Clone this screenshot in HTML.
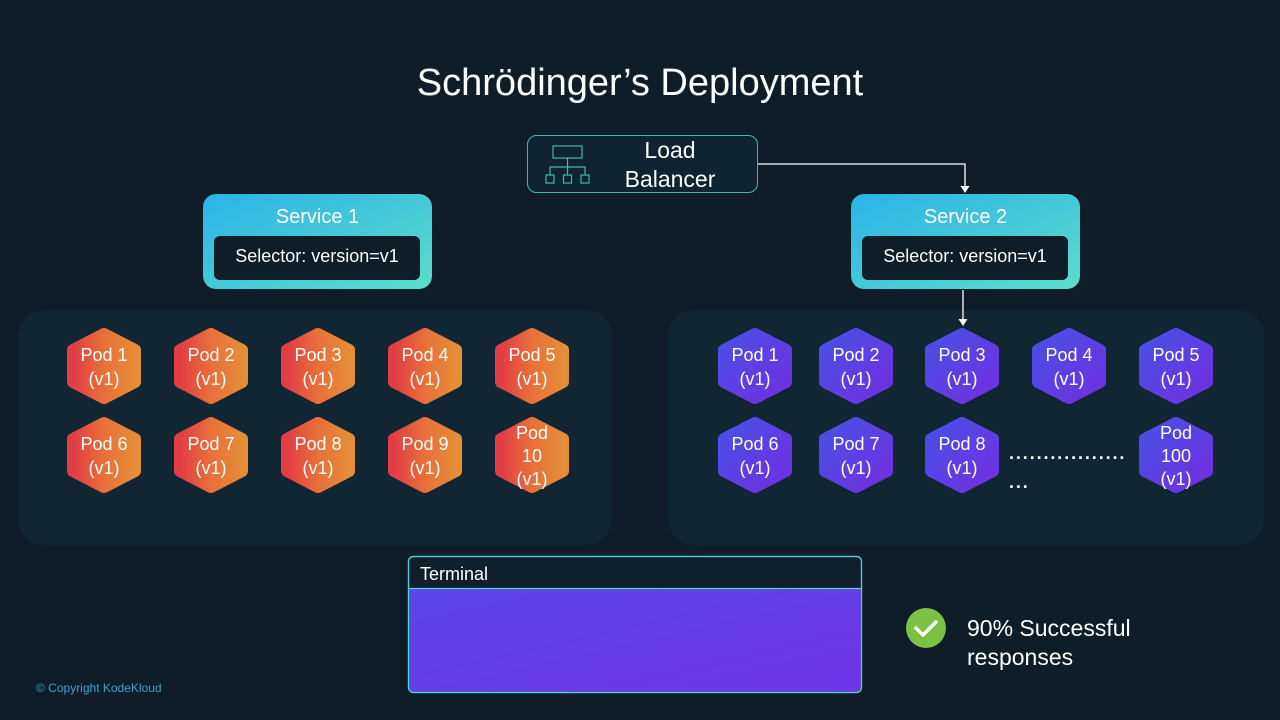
<!DOCTYPE html>
<html><head><meta charset="utf-8"><style>
html,body{margin:0;padding:0;background:#0e1d28;}
svg{display:block}
text{font-family:"Liberation Sans",sans-serif;fill:#fff}
</style></head><body>
<svg width="1280" height="720" viewBox="0 0 1280 720" xmlns="http://www.w3.org/2000/svg">
<defs>
<linearGradient id="og" x1="0" y1="0" x2="1" y2="0"><stop offset="0" stop-color="#e23d44"/><stop offset="0.5" stop-color="#e8703a"/><stop offset="1" stop-color="#e58d37"/></linearGradient>
<linearGradient id="pg" x1="0" y1="0" x2="1" y2="1"><stop offset="0" stop-color="#4a4fe6"/><stop offset="1" stop-color="#7030e0"/></linearGradient>
<linearGradient id="sg" x1="0" y1="0" x2="1" y2="1"><stop offset="0" stop-color="#2bb4e8"/><stop offset="1" stop-color="#5ddcc9"/></linearGradient>
<linearGradient id="tg" x1="0" y1="0" x2="1" y2="1"><stop offset="0" stop-color="#5b45e6"/><stop offset="1" stop-color="#6e36e6"/></linearGradient>
<polygon id="hx" points="0,-32 31,-16 31,16 0,32 -31,16 -31,-16" stroke-width="12" stroke-linejoin="round"/>
</defs>
<rect width="1280" height="720" fill="#0e1d28"/>
<text x="640" y="95" text-anchor="middle" font-size="38">Schrödinger’s Deployment</text>

<!-- load balancer -->
<rect x="527.5" y="135.5" width="230" height="57" rx="9" fill="#102330" stroke="#3fb8b0" stroke-width="1"/>
<g stroke="#3fb8b0" fill="none" stroke-width="1.2">
<rect x="553" y="146" width="29" height="12"/>
<path d="M567.5 158v9M550 175v-8h35v8M567.5 167v8"/>
<rect x="546" y="175" width="8" height="8"/><rect x="563.5" y="175" width="8" height="8"/><rect x="581" y="175" width="8" height="8"/>
</g>
<text x="670" y="158" text-anchor="middle" font-size="23">Load</text>
<text x="670" y="187" text-anchor="middle" font-size="23">Balancer</text>
<path d="M758 164H965V187" stroke="#fff" stroke-width="1.3" fill="none"/>
<polygon points="960.5,186 969.5,186 965,193" fill="#fff"/>

<!-- services -->
<rect x="203" y="194" width="229" height="95" rx="13" fill="url(#sg)"/>
<text x="317.5" y="223" text-anchor="middle" font-size="20">Service 1</text>
<rect x="214" y="236" width="206" height="44" rx="6" fill="#0e1d28"/>
<text x="317" y="262" text-anchor="middle" font-size="18">Selector: version=v1</text>
<rect x="851" y="194" width="229" height="95" rx="13" fill="url(#sg)"/>
<text x="965.5" y="223" text-anchor="middle" font-size="20">Service 2</text>
<rect x="862" y="236" width="206" height="44" rx="6" fill="#0e1d28"/>
<text x="965" y="262" text-anchor="middle" font-size="18">Selector: version=v1</text>

<!-- panels -->
<rect x="18" y="310" width="594" height="235" rx="26" fill="#112533"/>
<rect x="668" y="310" width="596" height="235" rx="26" fill="#112533"/>

<path d="M963 290V320" stroke="#fff" stroke-width="1.3"/>
<polygon points="958.5,319 967.5,319 963,326" fill="#fff"/>

<g font-size="18" text-anchor="middle">
<g fill="url(#og)" stroke="url(#og)">
<use href="#hx" x="104" y="366"/><use href="#hx" x="211" y="366"/><use href="#hx" x="318" y="366"/><use href="#hx" x="425" y="366"/><use href="#hx" x="532" y="366"/>
<use href="#hx" x="104" y="455"/><use href="#hx" x="211" y="455"/><use href="#hx" x="318" y="455"/><use href="#hx" x="425" y="455"/><use href="#hx" x="532" y="455"/>
</g>
<text x="104" y="361">Pod 1</text><text x="104" y="385">(v1)</text>
<text x="211" y="361">Pod 2</text><text x="211" y="385">(v1)</text>
<text x="318" y="361">Pod 3</text><text x="318" y="385">(v1)</text>
<text x="425" y="361">Pod 4</text><text x="425" y="385">(v1)</text>
<text x="532" y="361">Pod 5</text><text x="532" y="385">(v1)</text>
<text x="104" y="450">Pod 6</text><text x="104" y="474">(v1)</text>
<text x="211" y="450">Pod 7</text><text x="211" y="474">(v1)</text>
<text x="318" y="450">Pod 8</text><text x="318" y="474">(v1)</text>
<text x="425" y="450">Pod 9</text><text x="425" y="474">(v1)</text>
<text x="532" y="439">Pod</text><text x="532" y="462">10</text><text x="532" y="485">(v1)</text>

<g fill="url(#pg)" stroke="url(#pg)">
<use href="#hx" x="755" y="366"/><use href="#hx" x="856" y="366"/><use href="#hx" x="962" y="366"/><use href="#hx" x="1069" y="366"/><use href="#hx" x="1176" y="366"/>
<use href="#hx" x="755" y="455"/><use href="#hx" x="856" y="455"/><use href="#hx" x="962" y="455"/><use href="#hx" x="1176" y="455"/>
</g>
<text x="755" y="361">Pod 1</text><text x="755" y="385">(v1)</text>
<text x="856" y="361">Pod 2</text><text x="856" y="385">(v1)</text>
<text x="962" y="361">Pod 3</text><text x="962" y="385">(v1)</text>
<text x="1069" y="361">Pod 4</text><text x="1069" y="385">(v1)</text>
<text x="1176" y="361">Pod 5</text><text x="1176" y="385">(v1)</text>
<text x="755" y="450">Pod 6</text><text x="755" y="474">(v1)</text>
<text x="856" y="450">Pod 7</text><text x="856" y="474">(v1)</text>
<text x="962" y="450">Pod 8</text><text x="962" y="474">(v1)</text>
<text x="1176" y="439">Pod</text><text x="1176" y="462">100</text><text x="1176" y="485">(v1)</text>
</g>
<text x="1009" y="459" font-size="18" font-weight="bold" letter-spacing="1.9">.................</text>
<text x="1009" y="488" font-size="18" font-weight="bold" letter-spacing="1.9">...</text>

<!-- terminal -->
<rect x="408.5" y="556.5" width="453" height="136" rx="5" fill="#0f1f2b" stroke="#4fd0d6" stroke-width="1.2"/>
<path d="M409 588.5H861V687a5 5 0 0 1-5 5H414a5 5 0 0 1-5-5Z" fill="url(#tg)"/>
<path d="M409 588.5H861" stroke="#4fd0d6" stroke-width="1.2"/>
<rect x="408.5" y="556.5" width="453" height="136" rx="5" fill="none" stroke="#4fd0d6" stroke-width="1.2"/>
<text x="420" y="580" font-size="18">Terminal</text>

<!-- success -->
<circle cx="926" cy="628" r="20" fill="#7bc142"/>
<path d="M916 628l7 7 13-13" stroke="#fff" stroke-width="3.5" fill="none" stroke-linecap="round" stroke-linejoin="round"/>
<text x="967" y="636" font-size="23">90% Successful</text>
<text x="967" y="665" font-size="23">responses</text>

<text x="36" y="692" font-size="12" style="fill:#3aa0c8">© Copyright KodeKloud</text>
</svg>
</body></html>
